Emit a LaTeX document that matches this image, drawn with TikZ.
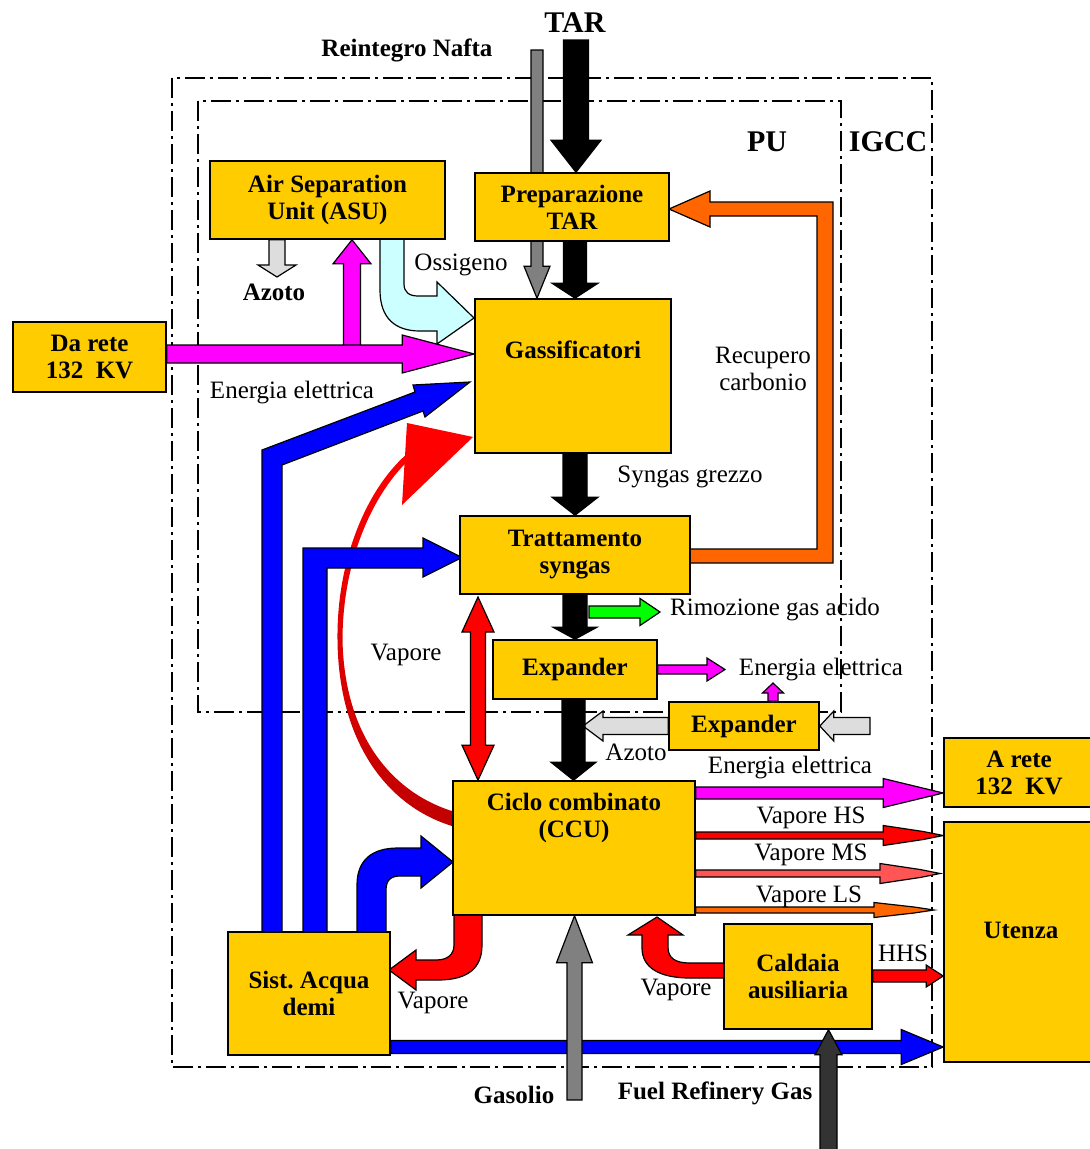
\documentclass[tikz,border=0pt]{standalone}
\usepackage{fontspec}
\setmainfont{Liberation Serif}
\usetikzlibrary{calc}
\definecolor{boxy}{HTML}{FFCC00}
\definecolor{mag}{HTML}{FF00FF}
\definecolor{blu}{HTML}{0000FF}
\definecolor{rd}{HTML}{FF0000}
\definecolor{org}{HTML}{FF6600}
\definecolor{cyn}{HTML}{CCFFFF}
\definecolor{lgry}{HTML}{DDDDDD}
\definecolor{gry}{HTML}{808080}
\definecolor{grn}{HTML}{00FF00}
\definecolor{dgry}{HTML}{333333}
\definecolor{salm}{HTML}{FF5555}
\definecolor{drd}{HTML}{C00000}
\pgfdeclarelayer{bg}
\pgfsetlayers{bg,main}
% straight block arrow: colour, start, end, half shaft, half head, head length
\newcommand\flowarrow[6]{\draw[abody,fill=#1] let \p1=#2,\p2=#3,\n1={atan2(\y2-\y1,\x2-\x1)},\n2={veclen(\x2-\x1,\y2-\y1)} in {[shift={(\p1)},rotate=\n1] (0,-#4) -- ({\n2-#6},-#4) -- ({\n2-#6},-#5) -- (\n2,0) -- ({\n2-#6},#5) -- ({\n2-#6},#4) -- (0,#4) -- cycle};}
% double headed block arrow
\newcommand\flowdarrow[6]{\draw[abody,fill=#1] let \p1=#2,\p2=#3,\n1={atan2(\y2-\y1,\x2-\x1)},\n2={veclen(\x2-\x1,\y2-\y1)} in {[shift={(\p1)},rotate=\n1] (0,0) -- (#6,-#5) -- (#6,-#4) -- ({\n2-#6},-#4) -- ({\n2-#6},-#5) -- (\n2,0) -- ({\n2-#6},#5) -- ({\n2-#6},#4) -- (#6,#4) -- (#6,#5) -- cycle};}
% steam arrow with slender head: colour, start, end, half shaft, half head
\newcommand\steamarrow[5]{\draw[abody,fill=#1] let \p1=#2,\p2=#3,\n1={atan2(\y2-\y1,\x2-\x1)},\n2={veclen(\x2-\x1,\y2-\y1)} in {[shift={(\p1)},rotate=\n1] (0,-#4) -- ({\n2-60},-#4) -- ({\n2-60},-#5) -- ({\n2-20},{-0.4*#5}) -- (\n2,0) -- ({\n2-20},{0.4*#5}) -- ({\n2-60},#5) -- ({\n2-60},#4) -- (0,#4) -- cycle};}
\begin{document}
\begin{tikzpicture}[x=1pt,y=-1pt,
  box/.style={draw=black, line width=1.6pt, fill=boxy, inner sep=0pt, align=center, font=\bfseries\fontsize{25}{27}\selectfont},
  lbl/.style={inner sep=0pt, align=center, font=\fontsize{25}{27}\selectfont},
  blbl/.style={inner sep=0pt, align=center, font=\bfseries\fontsize{25}{27}\selectfont},
  big/.style={inner sep=0pt, font=\bfseries\fontsize{30}{32}\selectfont},
  frame/.style={draw=black, line width=1.5pt, dash pattern=on 20pt off 5pt on 3pt off 5pt},
  abody/.style={draw=black, line width=1.2pt, line join=miter}]
\useasboundingbox (0,0) rectangle (1090,1149);

% ---------- boxes ----------
\node[box, minimum width=235pt, minimum height=78pt] (asu) at (327.5,200) {Air Separation\\Unit (ASU)};
\node[box, minimum width=194pt, minimum height=68pt] (prep) at (572,207) {Preparazione\\TAR};
\node[box, minimum width=196pt, minimum height=154pt] (gas) at (573,376) {};
\node[box, minimum width=153pt, minimum height=70pt] (darete) at (89.5,357) {Da rete\\132\ \ KV};
\node[box, minimum width=230pt, minimum height=78pt] (trat) at (575,555) {Trattamento\\syngas};
\node[box, minimum width=164pt, minimum height=59pt] (exp1) at (575,669.5) {Expander};
\node[box, minimum width=150pt, minimum height=48pt] (exp2) at (744,726) {Expander};
\node[box, minimum width=242pt, minimum height=134pt] (ciclo) at (574,848) {};
\node[box, minimum width=150pt, minimum height=69pt] (arete) at (1019,772.5) {A rete\\132\ \ KV};
\node[box, minimum width=150pt, minimum height=240pt] (utenza) at (1019,942) {};
\node[box, minimum width=148pt, minimum height=105pt] (caldaia) at (798,976.5) {Caldaia\\ausiliaria};
\node[box, minimum width=162pt, minimum height=123pt] (sist) at (309,993.5) {Sist.\ Acqua\\demi};

\node[blbl] (gastxt) at (573,350) {Gassificatori};
\node[blbl] (ciclotxt) at (574,818) {Ciclo combinato\\(CCU)};
\node[blbl] (utenzatxt) at (1021,930) {Utenza};

% ---------- labels ----------
\node[big] (tar) at (575,23) {TAR};
\node[blbl] (nafta) at (407,50) {Reintegro Nafta};
\node[big] (pu) at (767,142) {PU};
\node[big] (igcc) at (888,142) {IGCC};
\node[blbl] (azoto1) at (274,292) {Azoto};
\node[lbl] (ossi) at (461,265) {Ossigeno};
\node[lbl] (ee1) at (292,393) {Energia elettrica};
\node[lbl] (recup) at (763,369) {Recupero\\carbonio};
\node[lbl] (syn) at (690,477) {Syngas grezzo};
\node[lbl] (rim) at (775,610) {Rimozione gas acido};
\node[lbl] (vap1) at (406,655) {Vapore};
\node[lbl] (ee2) at (821,670) {Energia elettrica};
\node[lbl] (azoto2) at (636,752) {Azoto};
\node[lbl] (ee3) at (790,768) {Energia elettrica};
\node[lbl] (vhs) at (811,818) {Vapore HS};
\node[lbl] (vms) at (811,855) {Vapore MS};
\node[lbl] (vls) at (809,897) {Vapore LS};
\node[lbl] (hhs) at (903,953) {HHS};
\node[lbl] (vap2) at (676,990) {Vapore};
\node[lbl] (vap3) at (433,1003) {Vapore};
\node[blbl] (gasolio) at (514,1095) {Gasolio};
\node[blbl] (frg) at (715,1093) {Fuel Refinery Gas};

\coordinate (nafta0) at (537,50);
\coordinate (tar0) at (576,40);
\coordinate (gasolio0) at (574.5,1100);
\coordinate (frg0) at (828.5,1160);

\begin{pgfonlayer}{bg}
\fill[white] (0,0) rectangle (1090,1149);
% frames
\draw[frame] (172,78) rectangle (932,1067);
\draw[frame] (198,101) rectangle (841,712);

% top feeds
\flowarrow{gry}{(nafta0)}{(gas.north -| nafta0)}{6}{13}{32}
\flowarrow{black}{(tar0)}{(prep.north -| tar0)}{12.5}{25}{32}
\flowarrow{black}{(prep.south -| 575,0)}{(gas.north -| 575,0)}{11.5}{23}{15}

% ASU
\flowarrow{lgry}{(asu.south -| 277,0)}{(277,277)}{8}{19}{12}
\flowarrow{mag}{(352,346)}{(asu.south -| 352,0)}{8.5}{19}{24}
\flowarrow{mag}{(darete.east |- 0,354)}{(gas.west |- 0,354)}{9}{19}{72}
\draw[abody,fill=cyn] (380,239) -- (380,290) .. controls (380,318) and (395,331) .. (420,331) -- (437,331) -- (437,344) -- (474,318) -- (437,282) -- (437,296) -- (418,296) .. controls (409,296) and (404,292) .. (404,284) -- (404,239) -- cycle;

% red steam curve to gassificatori (tapered)
\shade[top color=rd, bottom color=drd] (452,826) .. controls (387,806) and (338.5,742) .. (337.5,640) .. controls (336.5,558) and (368,487) .. (408,453) -- (412,457) .. controls (372,493) and (342.5,562) .. (342.5,640) .. controls (344.5,738) and (394,794) .. (455,812) -- cycle;
\fill[rd] (407,423) -- (473,437) -- (402,505) -- cycle;

% water system blue arrows
\draw[abody,fill=blu] (262,935) -- (262,450) -- (415,392) -- (413,385) -- (470,382) -- (425,417) -- (423,411) -- (282,465) -- (282,935) -- cycle;
\draw[abody,fill=blu] (303,935) -- (303,548) -- (423,548) -- (423,538) -- (462,557.5) -- (423,577) -- (423,568) -- (327,568) -- (327,935) -- cycle;
\draw[abody,fill=blu] (357,935) -- (357,885) .. controls (357,860) and (372,848) .. (398,848) -- (421,848) -- (421,836) -- (453,862) -- (421,888) -- (421,876) -- (400,876) .. controls (391,876) and (386,880) .. (386,890) -- (386,935) -- cycle;
\flowarrow{blu}{(sist.east |- 0,1047)}{(utenza.west |- 0,1047)}{6.5}{17.5}{42}

% syngas line
\flowarrow{black}{(gas.south -| 575,0)}{(trat.north -| 575,0)}{12}{23}{18}
\flowarrow{grn}{(589,612)}{(660,612)}{6}{13.5}{20}
\flowarrow{black}{(trat.south -| 575,0)}{(exp1.north -| 575,0)}{12}{22}{12}
\draw[abody,fill=org] (690,549) -- (817,549) -- (817,216) -- (710,216) -- (710,227) -- (669,209) -- (710,191) -- (710,202) -- (833,202) -- (833,563) -- (690,563) -- cycle;

% expanders
\flowarrow{mag}{(exp1.east |- 0,669.5)}{(725,669.5)}{4.5}{11.5}{18}
\flowarrow{mag}{(exp2.north -| 773,0)}{(773,683)}{5}{10.5}{10}
\flowarrow{lgry}{(870,726)}{(exp2.east |- 0,726)}{8.5}{15}{14}
\flowarrow{lgry}{(exp2.west |- 0,726)}{(583,726)}{8.5}{15}{20}
\flowarrow{black}{(exp1.south -| 573.5,0)}{(ciclo.north -| 573.5,0)}{11.5}{22.5}{18}
\flowdarrow{rd}{(478,597)}{(ciclo.north -| 478,0)}{7.5}{16}{35}

% outputs of ciclo
\flowarrow{mag}{(ciclo.east |- 0,793)}{(arete.west |- 0,793)}{6}{14.5}{60}
\steamarrow{rd}{(ciclo.east |- 0,835.5)}{(utenza.west |- 0,835.5)}{3.5}{10}
\steamarrow{salm}{(ciclo.east |- 0,873.5)}{(940,873.5)}{3.5}{10}
\steamarrow{org}{(ciclo.east |- 0,910)}{(934,910)}{3}{7.5}
\draw[abody,fill=rd] (454,913) -- (454,945) .. controls (454,955) and (447,960) .. (436,960) -- (416,960) -- (416,950) -- (389,970) -- (416,990) -- (416,980) -- (438,980) .. controls (468,980) and (482,968) .. (482,945) -- (482,913) -- cycle;

% caldaia
\flowarrow{rd}{(caldaia.east |- 0,976)}{(utenza.west |- 0,976)}{6}{11}{17}
\draw[abody,fill=rd] (726,963) -- (690,963) .. controls (675,963) and (668,958) .. (668,947) -- (668,935) -- (683,935) -- (657,917) -- (628,935) -- (642,935) -- (642,948) .. controls (642,968) and (660,978) .. (690,978) -- (726,978) -- cycle;
\flowarrow{gry}{(gasolio0)}{(ciclo.south -| gasolio0)}{7.5}{18}{47}
\flowarrow{dgry}{(frg0)}{(caldaia.south -| frg0)}{8.5}{13.5}{25}
\end{pgfonlayer}
\end{tikzpicture}
\end{document}
